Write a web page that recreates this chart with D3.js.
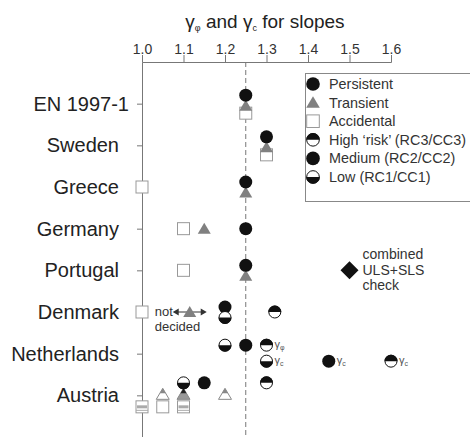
<!DOCTYPE html>
<meta charset="utf-8">
<style>
body { margin: 0; background: #fff; }
svg { display: block; font-family: "Liberation Sans", Arial, sans-serif; }
.axis .domain, .axis line { stroke: #777; }
.axis text { font-size: 14px; fill: #333; font-family: "Liberation Sans", Arial, sans-serif; }
.cat { font-size: 20px; fill: #222; }
.legend text { font-size: 14.4px; fill: #333; }
.note { font-size: 14px; fill: #333; }
.nd { font-size: 13px; fill: #333; }
</style>
<svg width="470" height="437"></svg>
<script src="https://d3js.org/d3.v7.min.js"></script>
<script>

var categories = ["EN 1997-1", "Sweden", "Greece", "Germany", "Portugal", "Denmark", "Netherlands", "Austria"];
var xTicks = [1.0, 1.1, 1.2, 1.3, 1.4, 1.5, 1.6];

// design situations
var persistent = [["EN 1997-1", 1.25], ["Sweden", 1.30], ["Greece", 1.25], ["Germany", 1.25], ["Portugal", 1.25]];
var transient  = [["EN 1997-1", 1.25], ["Sweden", 1.30], ["Greece", 1.25], ["Germany", 1.15], ["Portugal", 1.25], ["Denmark", 1.115]];
var accidental = [["EN 1997-1", 1.25], ["Sweden", 1.30], ["Greece", 1.00], ["Germany", 1.10], ["Portugal", 1.10], ["Denmark", 1.00], ["Austria", 1.05]];

// consequence / reliability classes (third field: parameter, phi or c)
var highRisk = [["Denmark", 1.32], ["Netherlands", 1.30, "φ"], ["Netherlands", 1.60, "c"], ["Austria", 1.30]];
var mediumRisk = [["Denmark", 1.20], ["Netherlands", 1.25, "φ"], ["Netherlands", 1.45, "c"], ["Austria", 1.15]];
var lowRisk = [["Denmark", 1.20], ["Netherlands", 1.20, "φ"], ["Netherlands", 1.30, "c"], ["Austria", 1.10]];

// Austria: mixed situation / class symbols
var transientShaded = [["Austria", 1.05], ["Austria", 1.20]];
var transientDark = [["Austria", 1.10]];
var accidentalShaded = [["Austria", 1.00], ["Austria", 1.10]];

var combinedCheck = [["Portugal", 1.50]];

var svg = d3.select("svg"),
    margin = {top: 62, left: 142},
    width = 249,
    height = 375,
    g = svg.append("g").attr("transform", "translate(" + margin.left + "," + margin.top + ")");

var x = d3.scaleLinear().domain([1.0, 1.6]).range([0, width]);
var y = d3.scaleLinear().domain([-1, 8]).range([0, height]);

// title
var title = svg.append("text")
    .attr("x", 265).attr("y", 28)
    .attr("text-anchor", "middle")
    .style("font-size", "19px").style("fill", "#222");
title.append("tspan").text("γ");
title.append("tspan").attr("dy", 3).style("font-size", "9px").text("φ");
title.append("tspan").attr("dy", -3).text(" and γ");
title.append("tspan").attr("dy", 3).style("font-size", "9px").text("c");
title.append("tspan").attr("dy", -3).text(" for slopes");

g.append("g")
    .attr("class", "axis")
    .call(d3.axisTop(x).tickValues(xTicks).tickFormat(d3.format(".1f")).tickSize(7).tickPadding(1));

g.append("g")
    .attr("class", "axis")
    .call(d3.axisLeft(y).tickValues(d3.range(0, 9)).tickFormat("").tickSize(5).tickSizeOuter(0));

g.selectAll(".cat")
    .data(categories)
  .enter().append("text")
    .attr("class", "cat")
    .attr("x", function(d) { return d == "EN 1997-1" ? -13 : -23; })
    .attr("y", function(d, i) { return y(i); })
    .attr("dy", "0.35em")
    .attr("text-anchor", "end")
    .text(function(d) { return d; });

g.append("line")
    .attr("x1", x(1.25)).attr("x2", x(1.25))
    .attr("y1", 0).attr("y2", height)
    .attr("stroke", "#777")
    .attr("stroke-dasharray", "5,3");

// collect points
var points = [];
function add(list, kind, rank, tier) {
  list.forEach(function(d) {
    points.push({cat: d[0], v: d[1], param: d[2], kind: kind, rank: rank, tier: tier});
  });
}
add(persistent, "dot", 0, 0);
add(mediumRisk, "dot", 0, 0);
add(highRisk, "high", 0, 0);
add(lowRisk, "low", 1, 0);
add(transient, "tri", 1, 1);
add(transientShaded, "triShaded", 1, 1);
add(transientDark, "triDark", 1, 1);
add(accidental, "sq", 2, 2);
add(accidentalShaded, "sqShaded", 2, 2);

var stackOffsets = {1: [0], 2: [-5, 5.5], 3: [-8.5, 2, 9.5]};
var tierOffsets = [-12.5, -1, 11.5];
var laneOffsets = {"φ": -8.5, "c": 7.5};

d3.group(points.filter(function(d) { return !d.param && d.cat != "Austria"; }),
         function(d) { return d.cat + "|" + d.v; })
  .forEach(function(grp) {
    grp.sort(function(a, b) { return a.rank - b.rank; });
    grp.forEach(function(d, i) { d.dy = stackOffsets[grp.length][i]; });
  });
points.forEach(function(d) {
  if (d.param) d.dy = laneOffsets[d.param];
  else if (d.cat == "Austria") d.dy = tierOffsets[d.tier];
});

// draw order: squares first, circles on top
points.sort(function(a, b) { return b.tier - a.tier; });

function marker(sel, kind, s) {
  var r = 6.5 * s, hw = 6.5 * s, top = -6 * s, bot = 5 * s, h = 6 * s;
  function tri(f) {
    return "M0," + top + "L" + (hw * f) + "," + (top + (bot - top) * f) + "L" + (-hw * f) + "," + (top + (bot - top) * f) + "Z";
  }
  if (kind == "dot") {
    sel.append("circle").attr("r", r).attr("fill", "#111");
  } else if (kind == "high" || kind == "low") {
    sel.append("circle").attr("r", r - 0.5).attr("fill", "#fff").attr("stroke", "#111");
    sel.append("path")
        .attr("d", "M" + (-r) + ",0A" + r + "," + r + " 0 0 " + (kind == "high" ? 1 : 0) + " " + r + ",0Z")
        .attr("fill", "#111");
  } else if (kind == "tri") {
    sel.append("path").attr("d", tri(1)).attr("fill", "#808080");
  } else if (kind == "triShaded" || kind == "triDark") {
    sel.append("path").attr("d", tri(1)).attr("fill", kind == "triDark" ? "#999" : "#fff").attr("stroke", "#888");
    sel.append("path").attr("d", tri(0.45)).attr("fill", kind == "triDark" ? "#222" : "#888");
  } else if (kind == "sq" || kind == "sqShaded") {
    sel.append("rect").attr("x", -h).attr("y", -h).attr("width", 2 * h).attr("height", 2 * h)
        .attr("fill", "#fff").attr("stroke", "#999");
    if (kind == "sqShaded") {
      sel.append("rect").attr("x", -h + 1).attr("y", -1.5 * s).attr("width", 2 * h - 2).attr("height", 3 * s).attr("fill", "#aaa");
      sel.append("line").attr("x1", -h).attr("x2", h).attr("y1", 3.5 * s).attr("y2", 3.5 * s).attr("stroke", "#aaa");
    }
  } else if (kind == "diamond") {
    var d = 9 * s;
    sel.append("path").attr("d", "M0," + (-d) + "L" + d + ",0L0," + d + "L" + (-d) + ",0Z").attr("fill", "#111");
  }
}

var mark = g.selectAll(".mark")
    .data(points)
  .enter().append("g")
    .attr("class", "mark")
    .attr("transform", function(d) { return "translate(" + x(d.v) + "," + (y(categories.indexOf(d.cat)) + d.dy) + ")"; });
mark.each(function(d) { marker(d3.select(this), d.kind, 1); });

// parameter labels (Netherlands)
var maxPhi = d3.max(points.filter(function(d) { return d.param == "φ"; }), function(d) { return d.v; });
var lab = g.selectAll(".plab")
    .data(points.filter(function(d) { return d.param == "c" || (d.param == "φ" && d.v == maxPhi); }))
  .enter().append("text")
    .attr("class", "plab")
    .attr("x", function(d) { return x(d.v) + 8; })
    .attr("y", function(d) { return y(categories.indexOf(d.cat)) + d.dy + 3; })
    .style("font-size", "11px").style("fill", "#555");
lab.append("tspan").text("γ");
lab.append("tspan").attr("dy", 2).style("font-size", "7px").text(function(d) { return d.param; });

// combined ULS+SLS check
combinedCheck.forEach(function(c) {
  var cx = x(c[1]), cy = y(categories.indexOf(c[0]));
  marker(g.append("g").attr("transform", "translate(" + cx + "," + cy + ")"), "diamond", 1);
  var t = g.append("text").attr("class", "note").attr("x", cx + 13).attr("y", cy - 16 + 5);
  ["combined", "ULS+SLS", "check"].forEach(function(s, i) {
    t.append("tspan").attr("x", cx + 13).attr("dy", i ? 15.5 : 0).text(s);
  });
});

// Denmark "not decided" note around the transient value
var dk = points.filter(function(d) { return d.cat == "Denmark" && d.kind == "tri"; })[0];
var dx0 = x(dk.v), dy0 = y(categories.indexOf("Denmark"));
var nd = g.append("g").attr("transform", "translate(" + dx0 + "," + dy0 + ")");
nd.append("text").attr("class", "nd").attr("x", -35).attr("y", 4).text("not");
nd.append("text").attr("class", "nd").attr("x", -35).attr("y", 18.5).text("decided");
nd.append("line").attr("x1", -13).attr("x2", 13).attr("y1", 0).attr("y2", 0).attr("stroke", "#333");
nd.append("path").attr("d", "M-17,0L-11,-3.5L-11,3.5Z M17,0L11,-3.5L11,3.5Z").attr("fill", "#333");
nd.raise();
mark.filter(function(d) { return d === dk; }).raise();

// legend
var legendItems = [
  ["dot", "Persistent"], ["tri", "Transient"], ["sq", "Accidental"],
  ["high", "High ‘risk’ (RC3/CC3)"], ["dot", "Medium (RC2/CC2)"], ["low", "Low (RC1/CC1)"]
];
var legend = svg.append("g").attr("class", "legend");
legend.append("rect")
    .attr("x", 305.5).attr("y", 73.5).attr("width", 200).attr("height", 128)
    .attr("fill", "#fff").attr("stroke", "#888");
var li = legend.selectAll(".li")
    .data(legendItems)
  .enter().append("g")
    .attr("class", "li")
    .attr("transform", function(d, i) { return "translate(313," + (84 + i * 18.6) + ")"; });
li.each(function(d) { marker(d3.select(this), d[0], 1.05); });
li.append("text").attr("x", 16).attr("dy", "0.35em").text(function(d) { return d[1]; });

</script>
